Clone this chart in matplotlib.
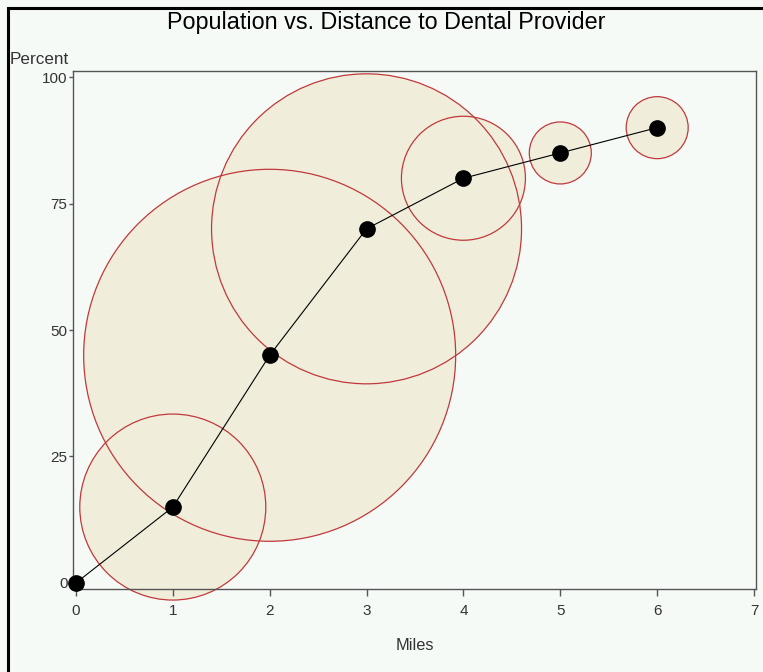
import numpy as np
import matplotlib.pyplot as plt
from matplotlib.patches import Rectangle

# data
miles = [0, 1, 2, 3, 4, 5, 6]
percent = [0, 15, 45, 70, 80, 85, 90]
bubble = [0, 15, 30, 25, 10, 5, 5]   # bubble radius is proportional to this

plt.rcParams['font.family'] = ['Liberation Sans', 'DejaVu Sans']
bg = '#f6faf7'

fig = plt.figure(figsize=(7.63, 6.72), dpi=100, facecolor=bg)
ax = fig.add_axes([73 / 763, 1 - 589 / 672, (756 - 73) / 763, (589 - 71) / 672])
ax.set_facecolor(bg)

# bubble radius: 6.2 px per unit -> points
r_pt = np.array(bubble) * 6.2 * 72 / 100
sizes = (2 * r_pt) ** 2

# fills first, edges on top so every outline shows
ax.scatter(miles, percent, s=sizes, color='#f0eedb', edgecolors='none',
           zorder=1, clip_on=False)
ax.scatter(miles, percent, s=sizes, facecolors='none', edgecolors='#c0393b',
           linewidths=0.9, zorder=2, clip_on=False)

ax.plot(miles, percent, '-', color='black', linewidth=0.8, zorder=3)
ax.plot(miles, percent, 'o', color='black', markersize=11, zorder=4, clip_on=False)

ax.set_xlim(-0.03, 7.02)
ax.set_ylim(-1.2, 101.2)
ax.set_xticks(range(0, 8))
ax.set_yticks([0, 25, 50, 75, 100])

for sp in ax.spines.values():
    sp.set_color('#555555')
    sp.set_linewidth(1.0)
ax.tick_params(axis='x', direction='out', length=5, width=1, colors='#555555',
               labelcolor='#333333', labelsize=11, pad=6)
ax.tick_params(axis='y', direction='out', length=3, width=1, colors='#555555',
               labelcolor='#333333', labelsize=11, pad=1)

fig.text(386 / 763, 1 - 22 / 672, 'Population vs. Distance to Dental Provider',
         ha='center', va='center', fontsize=16.8, color='black')
fig.text(10 / 763, 1 - 59 / 672, 'Percent', ha='left', va='center',
         fontsize=12.3, color='#333333')
fig.text(415 / 763, 1 - 645 / 672, 'Miles', ha='center', va='center',
         fontsize=11.8, color='#333333')

# outer black frame
fig.patches.append(Rectangle((7.5 / 763, -0.1), 2.0, 1 - 7.5 / 672 + 0.1,
                             transform=fig.transFigure, fill=False,
                             edgecolor='black', linewidth=2.2, clip_on=False))

fig.savefig('out.png', dpi=100, facecolor=bg)
